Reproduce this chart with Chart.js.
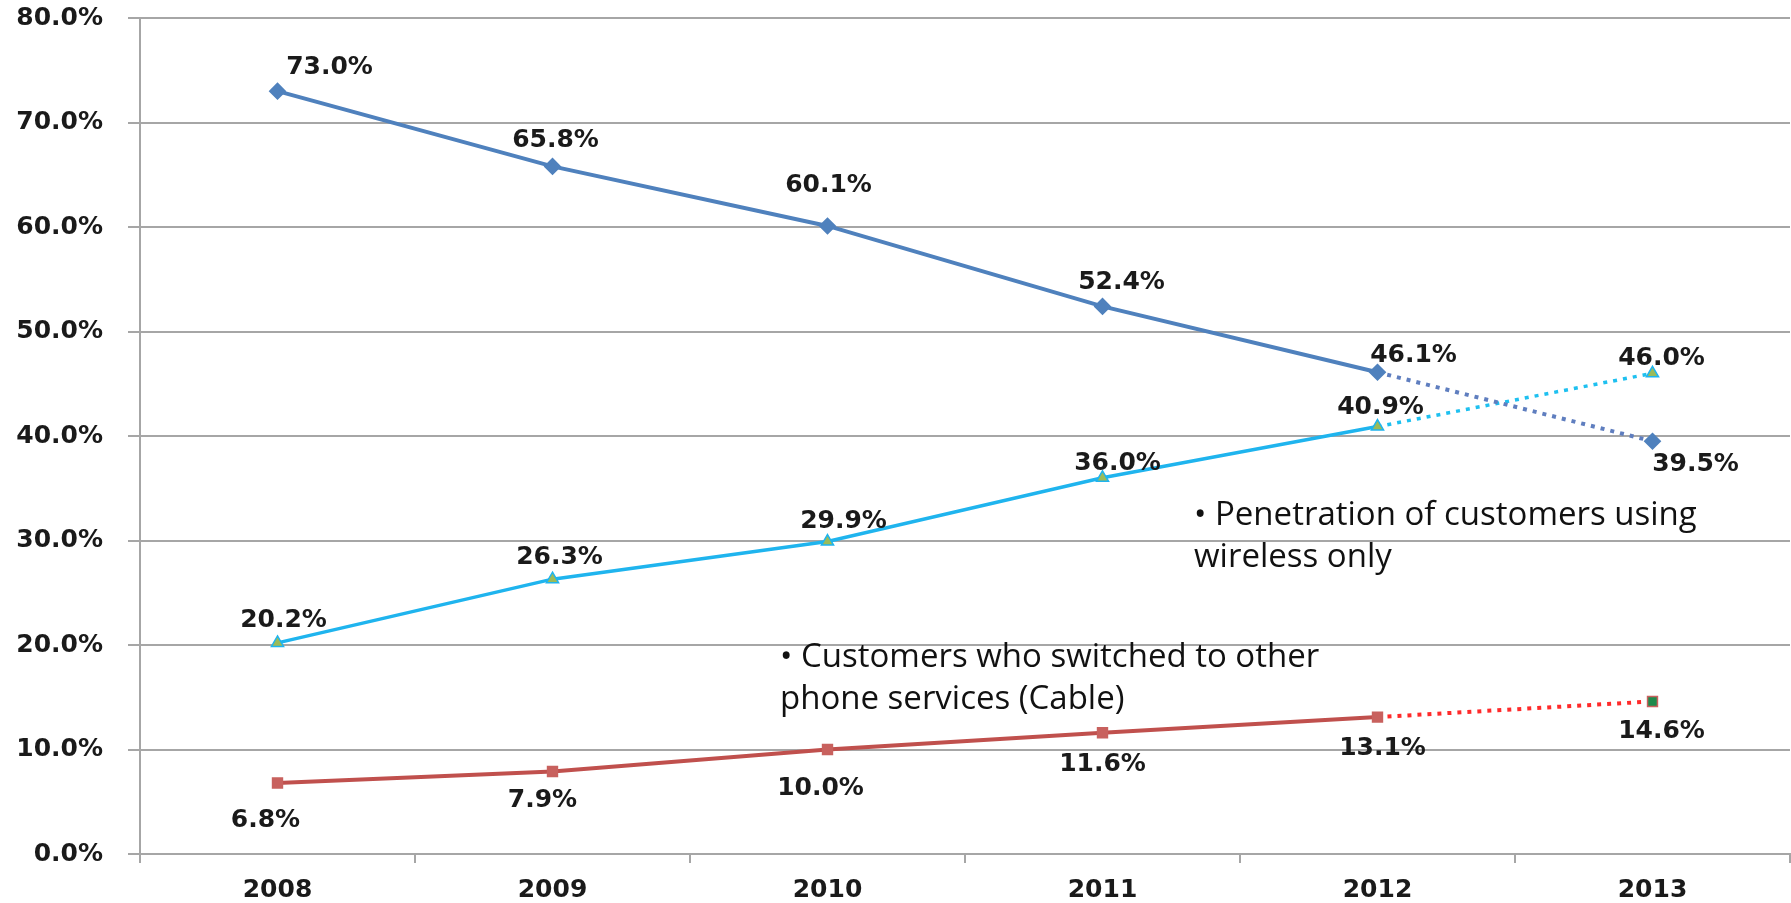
<!DOCTYPE html>
<html>
<head>
<meta charset="utf-8">
<script src="https://cdn.jsdelivr.net/npm/chart.js@4.4.0/dist/chart.umd.min.js"></script>
<style>
  body { margin: 0; background: #fff; }
  #wrap { position: relative; width: 1791px; height: 903px; }
  .note {
    position: absolute;
    font-family: "Open Sans", sans-serif;
    font-size: 33px;
    line-height: 42px;
    color: #111;
    white-space: nowrap;
  }
</style>
</head>
<body>
<div id="wrap">
  <canvas id="grafico" width="1791" height="903"></canvas>
  <div class="note" style="left:1194px; top:492px;">• Penetration of customers using<br>wireless only</div>
  <div class="note" style="left:780px; top:634px;">• Customers who switched to other<br>phone services (Cable)</div>
</div>
<script>
// dados
const anos = ['2008', '2009', '2010', '2011', '2012', '2013'];
const fixo = [73.0, 65.8, 60.1, 52.4, 46.1, 39.5];
const semFio = [20.2, 26.3, 29.9, 36.0, 40.9, 46.0];
const cabo = [6.8, 7.9, 10.0, 11.6, 13.1, 14.6];
const ticksY = [0, 10, 20, 30, 40, 50, 60, 70, 80];

// deslocamento dos rótulos em relação ao ponto (px)
const offFixo = [[52, -24], [3, -26], [1, -40], [19, -24], [36, -17], [43, 23]];
const offSemFio = [[6, -22], [7, -22], [16, -20], [15, -14], [3, -19], [9, -15]];
const offCabo = [[-12, 38], [-10, 29], [-7, 39], [0, 32], [5, 31], [9, 30]];

const ultimo = anos.length - 1;

function pontilhado(corSolida, corPontos) {
    return {
        borderDash: ctx => ctx.p1DataIndex === ultimo ? [4, 6] : undefined,
        borderColor: ctx => ctx.p1DataIndex === ultimo ? corPontos : corSolida
    };
}

// rótulos de valor
const rotulos = {
    id: 'rotulos',
    afterDatasetsDraw(chart) {
        const ctx = chart.ctx;
        const offs = [offFixo, offSemFio, offCabo];
        ctx.save();
        ctx.font = 'bold 25px "DejaVu Sans"';
        ctx.fillStyle = '#1a1a1a';
        ctx.textAlign = 'center';
        ctx.textBaseline = 'middle';
        chart.data.datasets.forEach((ds, i) => {
            chart.getDatasetMeta(i).data.forEach((pt, j) => {
                const [dx, dy] = offs[i][j];
                ctx.fillText(ds.data[j].toFixed(1) + '%', pt.x + dx, pt.y + dy);
            });
        });
        ctx.restore();
    }
};

const fonteEixo = { family: 'DejaVu Sans', weight: 'bold', size: 25 };

new Chart(document.getElementById('grafico').getContext('2d'), {
    type: 'line',
    data: {
        labels: anos,
        datasets: [{
            data: fixo,
            borderColor: '#4F81BD',
            borderWidth: 4,
            pointStyle: 'rectRot',
            pointRadius: 6,
            pointBackgroundColor: '#4F81BD',
            pointBorderColor: '#4F81BD',
            segment: pontilhado('#4F81BD', '#5F7EBF')
        }, {
            data: semFio,
            borderColor: '#1FB4EE',
            borderWidth: 3.5,
            pointStyle: 'triangle',
            pointRadius: 7,
            pointBackgroundColor: '#9BBB59',
            pointBorderColor: '#1FB4EE',
            pointBorderWidth: 1.5,
            segment: pontilhado('#1FB4EE', '#1EC0F0')
        }, {
            data: cabo,
            borderColor: '#C0504D',
            borderWidth: 4,
            pointStyle: 'rect',
            pointRadius: 7,
            pointBackgroundColor: ['#C8615E', '#C8615E', '#C8615E', '#C8615E', '#C8615E', '#1E8A4C'],
            pointBorderColor: '#C8615E',
            pointBorderWidth: 1.5,
            segment: pontilhado('#C0504D', '#FF2B2B')
        }]
    },
    options: {
        responsive: false,
        animation: false,
        layout: { autoPadding: false, padding: { top: 18, right: 1, left: 0, bottom: 0 } },
        plugins: { legend: { display: false }, tooltip: { enabled: false } },
        scales: {
            x: {
                offset: true,
                grid: { drawOnChartArea: false, drawTicks: true, tickLength: 9, color: '#a6a6a6', lineWidth: 2, offset: true },
                border: { color: '#a6a6a6', width: 2 },
                ticks: { font: fonteEixo, color: '#1a1a1a', padding: 12 },
                afterFit: s => { s.height = 49; s.paddingLeft = 0; s.paddingRight = 0; }
            },
            y: {
                min: ticksY[0],
                max: ticksY[ticksY.length - 1],
                afterBuildTicks: s => { s.ticks = ticksY.map(v => ({ value: v })); },
                grid: { color: '#a6a6a6', lineWidth: 2, tickLength: 12 },
                border: { color: '#a6a6a6', width: 2 },
                ticks: { font: fonteEixo, color: '#1a1a1a', padding: 25, callback: v => v.toFixed(1) + '%' },
                afterFit: s => { s.width = 140; s.paddingTop = 0; s.paddingBottom = 0; }
            }
        }
    },
    plugins: [rotulos]
});
</script>
</body>
</html>
